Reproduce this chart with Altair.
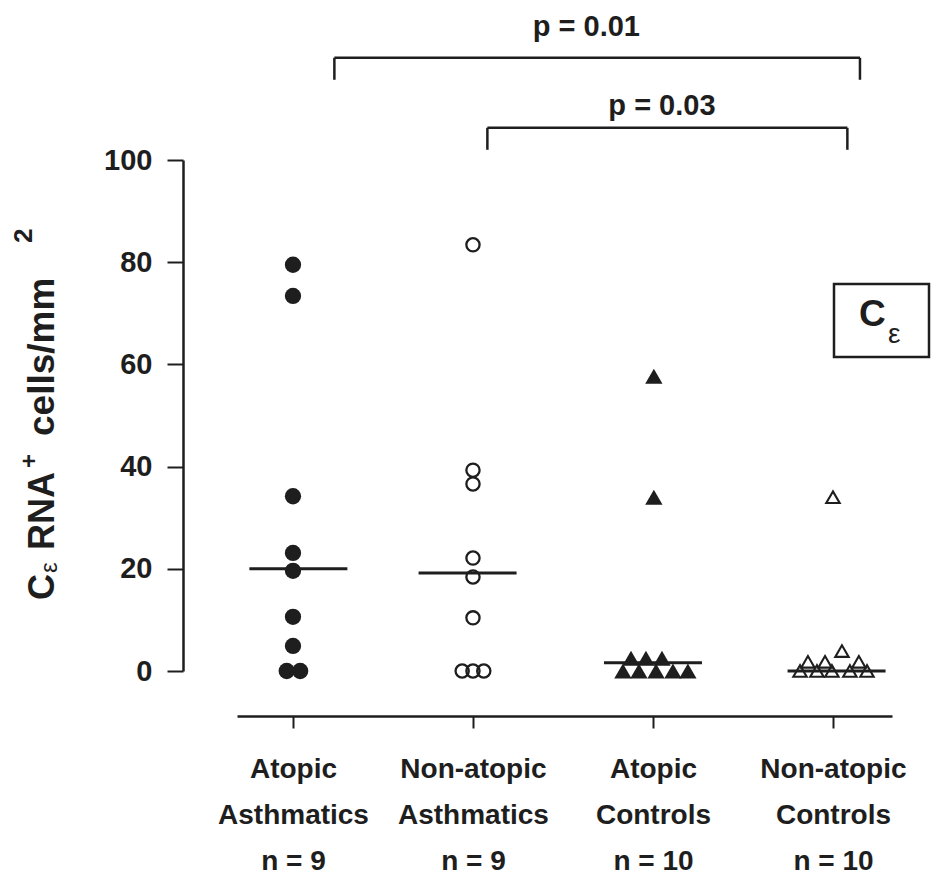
import altair as alt
import pandas as pd

# ---------------- data ----------------
group_ids = [1, 2, 3, 4]
label_line1 = ["Atopic", "Non-atopic", "Atopic", "Non-atopic"]
label_line2 = ["Asthmatics", "Asthmatics", "Controls", "Controls"]
label_n = ["n = 9", "n = 9", "n = 10", "n = 10"]

# Atopic asthmatics (filled circles)
aa_values = [79.5, 73.4, 34.2, 23.1, 19.6, 10.6, 4.9, 0.0, 0.0]
aa_dx = [0, 0, 0, 0, 0, 0, 0, -0.035, 0.04]
# Non-atopic asthmatics (open circles)
na_values = [83.4, 39.3, 36.6, 22.1, 18.4, 10.4, 0.0, 0.0, 0.0]
na_dx = [0, 0, 0, 0, 0, 0, -0.06, 0, 0.06]
# Atopic controls (filled triangles)
ac_values = [57.7, 34.0, 2.5, 2.5, 2.5, 0.0, 0.0, 0.0, 0.0, 0.0]
ac_dx = [0.005, 0.005, -0.122, -0.039, 0.05, -0.167, -0.078, 0.017, 0.111, 0.194]
# Non-atopic controls (open triangles)
nc_values = [34.0, 3.9, 1.8, 1.8, 1.8, 0.0, 0.0, 0.0, 0.0, 0.0]
nc_dx = [0, 0.05, -0.139, -0.044, 0.144, -0.183, -0.089, -0.006, 0.094, 0.189]

medians = [20.0, 19.2, 1.6, 0.0]
median_dx = [0.03, -0.03, 0.0, 0.02]

p_labels = ["p = 0.01", "p = 0.03"]
bracket_x1 = [1.23, 2.08]
bracket_x2 = [4.15, 4.08]
bracket_top = [120.0, 106.3]
bracket_end = [115.7, 102.0]
p_label_x = [2.63, 3.05]
p_label_y = [124.3, 108.8]

y_ticks = [0, 20, 40, 60, 80, 100]

# ---------------- layout / style ----------------
FONT = "Liberation Sans"
INK = "#1e1e1e"
LEFT, TOP = 237, 160
W, H = 655, 511

x_scale = alt.Scale(domain=[0.689, 4.328], nice=False, zero=False)
y_scale = alt.Scale(domain=[0, 100], nice=False, zero=False)

def build(values, dx, gid):
    return pd.DataFrame({"x": [gid + d for d in dx], "value": values})

df_aa = build(aa_values, aa_dx, 1)
df_na = build(na_values, na_dx, 2)
df_ac = build(ac_values, ac_dx, 3)
df_nc = build(nc_values, nc_dx, 4)

lines = ",".join(
    "['%s','%s','%s']" % (a, b, c) for a, b, c in zip(label_line1, label_line2, label_n)
)
label_expr = "[%s][round(datum.value) - 1]" % lines

x_axis = alt.Axis(
    values=group_ids, offset=45, tickSize=12, tickWidth=2, tickColor=INK,
    domainWidth=2.5, domainColor=INK, labelExpr=label_expr, labelFont=FONT,
    labelFontSize=28, labelFontWeight="bold", labelColor=INK, labelLineHeight=46,
    labelPadding=27, title=None, grid=False,
)
y_axis = alt.Axis(
    values=y_ticks, offset=54, tickSize=16, tickWidth=2, tickColor=INK,
    domainWidth=2.5, domainColor=INK, labelFont=FONT, labelFontSize=29,
    labelFontWeight="bold", labelColor=INK, labelPadding=15, title=None, grid=False,
)

X = alt.X("x:Q", scale=x_scale, axis=x_axis)
Y = alt.Y("value:Q", scale=y_scale, axis=y_axis)

filled_circles = alt.Chart(df_aa).mark_point(
    shape="circle", filled=True, size=265, color=INK, opacity=1
).encode(x=X, y=Y)

open_circles = alt.Chart(df_na).mark_point(
    shape="circle", filled=False, size=175, color=INK, strokeWidth=2.3, opacity=1
).encode(x=X, y=Y)

filled_tri = alt.Chart(df_ac).mark_point(
    shape="triangle-up", filled=True, size=300, color=INK, opacity=1
).encode(x=X, y=Y)

open_tri = alt.Chart(df_nc).mark_point(
    shape="triangle-up", filled=False, size=180, color=INK, strokeWidth=2.1, opacity=1
).encode(x=X, y=Y)

df_med = pd.DataFrame({"x": [g + d for g, d in zip(group_ids, median_dx)], "value": medians})
median_ticks = alt.Chart(df_med).mark_tick(
    orient="horizontal", size=98, thickness=3, color=INK, opacity=1
).encode(x=X, y=Y)

seg_rows = []
for x1, x2, yt, ye in zip(bracket_x1, bracket_x2, bracket_top, bracket_end):
    seg_rows.append({"x": x1, "x2": x2, "value": yt, "value2": yt})
    seg_rows.append({"x": x1, "x2": x1, "value": yt, "value2": ye})
    seg_rows.append({"x": x2, "x2": x2, "value": yt, "value2": ye})
df_seg = pd.DataFrame(seg_rows)
brackets = alt.Chart(df_seg).mark_rule(color=INK, strokeWidth=2.5).encode(
    x=X, x2="x2:Q", y=Y, y2="value2:Q"
)

df_p = pd.DataFrame({"x": p_label_x, "value": p_label_y, "label": p_labels})
p_text = alt.Chart(df_p).mark_text(
    font=FONT, fontSize=29, fontWeight="bold", color=INK, align="center", baseline="alphabetic"
).encode(x=X, y=Y, text="label:N")

one = pd.DataFrame({"k": [0]})

def txt(s, px, py, size, angle=0, weight="bold"):
    kw = dict(text=s, font=FONT, fontSize=size, fontWeight=weight, color=INK,
              align="left", baseline="alphabetic")
    if angle:
        kw["angle"] = angle
    return alt.Chart(one).mark_text(**kw).encode(
        x=alt.value(px - LEFT), y=alt.value(py - TOP)
    )

box = alt.Chart(one).mark_rect(fill="white", stroke=INK, strokeWidth=2.5).encode(
    x=alt.value(834 - LEFT), x2=alt.value(929 - LEFT),
    y=alt.value(284 - TOP), y2=alt.value(357 - TOP),
)
box_c = txt("C", 859, 326, 37)
box_eps = txt("ε", 888, 343, 28, weight="normal")

title_parts = [
    txt("C", 54, 600, 36, angle=270),
    txt("ε", 57, 573, 24, angle=270, weight="normal"),
    txt("RNA", 54, 550, 36, angle=270),
    txt("+", 37, 468, 24, angle=270),
    txt("cells/mm", 54, 436, 37, angle=270),
    txt("2", 32, 243, 26, angle=270),
]

chart = alt.layer(
    filled_circles, open_circles, filled_tri, open_tri, median_ticks,
    brackets, p_text, box, box_c, box_eps, *title_parts
).properties(
    width=W, height=H,
    autosize=alt.AutoSizeParams(type="none"),
    padding={"left": LEFT, "top": TOP, "right": 931 - LEFT - W, "bottom": 881 - TOP - H},
    background="white",
).configure_view(stroke=None)

chart.save("out.html", embed_options={"renderer": "svg", "actions": False})
